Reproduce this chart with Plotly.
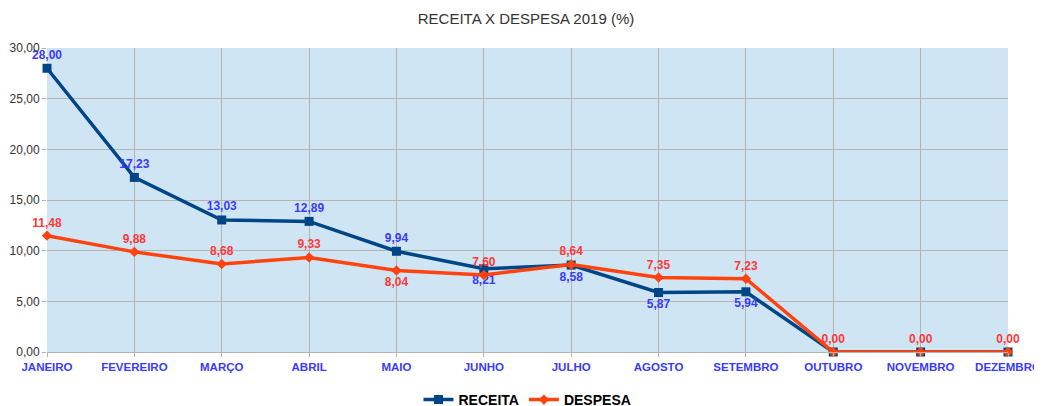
import plotly.graph_objects as go

meses = ["JANEIRO", "FEVEREIRO", "MARÇO", "ABRIL", "MAIO", "JUNHO", "JULHO",
         "AGOSTO", "SETEMBRO", "OUTUBRO", "NOVEMBRO", "DEZEMBRO"]
receita = [28.00, 17.23, 13.03, 12.89, 9.94, 8.21, 8.58, 5.87, 5.94, 0.00, 0.00, 0.00]
despesa = [11.48, 9.88, 8.68, 9.33, 8.04, 7.60, 8.64, 7.35, 7.23, 0.00, 0.00, 0.00]

rec_pos = ["top center"] * 5 + ["bottom center"] * 4 + ["top center"] * 3
desp_pos = ["top center"] * 4 + ["bottom center"] + ["top center"] * 7

def fmt(v):
    return f"{v:.2f}".replace(".", ",")

W, H = 1034, 398  # page body has an 8px margin

fig = go.Figure()
fig.add_trace(go.Scatter(
    x=meses, y=receita, name="<b>RECEITA</b>", mode="lines+markers+text",
    line=dict(color="#004586", width=3.5),
    marker=dict(symbol="square", size=9, color="#004586"),
    text=[fmt(v) if i < 9 else "" for i, v in enumerate(receita)],
    textposition=rec_pos,
    texttemplate="<b>%{text}</b>",
    textfont=dict(color="#3a3aff", size=12, family="Liberation Sans"),
    cliponaxis=False,
))
fig.add_trace(go.Scatter(
    x=meses, y=despesa, name="<b>DESPESA</b>", mode="lines+markers+text",
    line=dict(color="#ff420e", width=3.5),
    marker=dict(symbol="diamond", size=8, color="#ff420e"),
    text=[fmt(v) for v in despesa],
    textposition=desp_pos,
    texttemplate="<b>%{text}</b>",
    textfont=dict(color="#ff3838", size=12, family="Liberation Sans"),
    cliponaxis=False,
))

fig.update_layout(
    width=W, height=H,
    paper_bgcolor="white", plot_bgcolor="#cfe5f3",
    separators=",.",
    title=dict(text="RECEITA X DESPESA 2019 (%)", x=518 / W, xanchor="center",
               xref="container", yref="container", y=1 - 11 / H, yanchor="middle",
               font=dict(size=15, color="#333333", family="Liberation Sans")),
    margin=dict(l=39, r=34, t=40, b=54, autoexpand=False),
    font=dict(family="Liberation Sans"),
    showlegend=True,
    legend=dict(orientation="h", x=0.5, xanchor="center", xref="paper",
                yref="container", y=6 / H, yanchor="middle",
                font=dict(size=14, color="#000000", family="Liberation Sans"),
                itemwidth=30),
    xaxis=dict(type="category", range=[0, 11], showgrid=True, gridcolor="#b3b3b3", gridwidth=1,
               tickvals=meses, ticktext=[f"<b>{m}</b>" for m in meses],
               tickfont=dict(color="#3a3aff", size=11.5, family="Liberation Sans"),
               ticks="outside", ticklen=4, tickcolor="#b3b3b3", automargin=False,
               showline=True, linecolor="#b3b3b3", linewidth=1,
               zeroline=False, fixedrange=True),
    yaxis=dict(range=[0, 30], dtick=5, tickformat=".2f", showgrid=True,
               gridcolor="#b3b3b3", gridwidth=1, automargin=False,
               tickfont=dict(color="#333333", size=12, family="Liberation Sans"),
               ticks="outside", ticklen=4, tickcolor="#b3b3b3",
               zeroline=False, showline=False),
)

fig.write_html("out.html")
